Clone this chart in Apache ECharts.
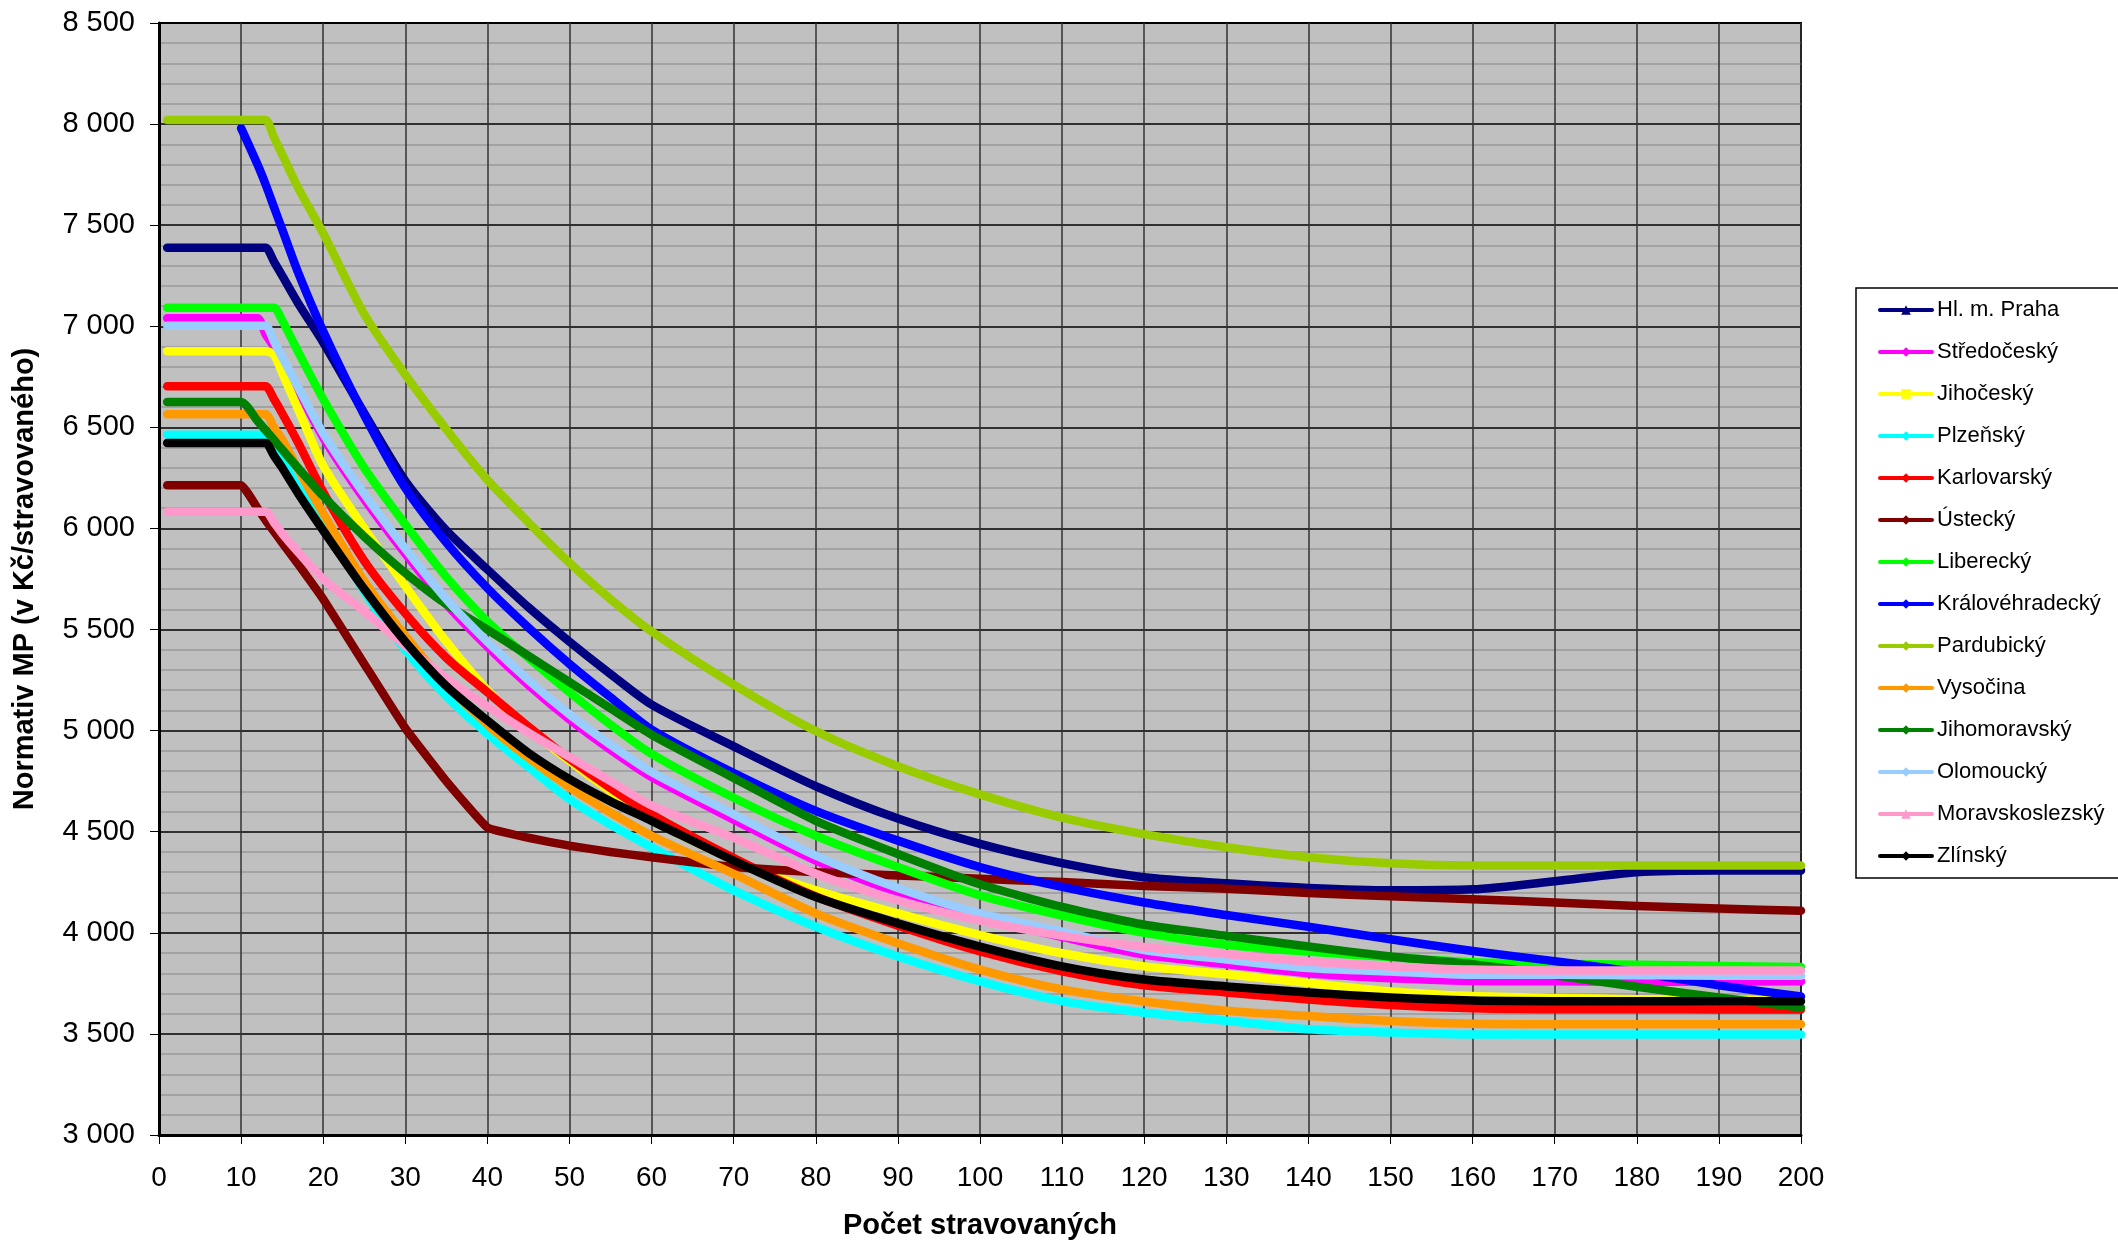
<!DOCTYPE html>
<html>
<head>
<meta charset="utf-8">
<script src="https://cdn.jsdelivr.net/npm/echarts@6/dist/echarts.min.js"></script>
<style>
html,body{margin:0;padding:0;background:#fff;overflow:hidden;}
#chart{width:2118px;height:1245px;}
</style>
</head>
<body>
<div id="chart"></div>
<script>
// x positions (Počet stravovaných)
const xs = [1,10,12,13,14,15,17,20,25,30,35,40,45,50,55,60,70,80,90,100,110,120,130,140,150,160,170,180,190,200];

const seriesNames = ['Hl. m. Praha','Středočeský','Jihočeský','Plzeňský','Karlovarský','Ústecký','Liberecký','Královéhradecký','Pardubický','Vysočina','Jihomoravský','Olomoucký','Moravskoslezský','Zlínský'];

const praha =           [7388,7388,7388,7388,7320,7250,7110,6920,6570,6235,5990,5797,5610,5440,5280,5129,4922,4725,4565,4440,4345,4275,4245,4222,4210,4215,4255,4300,4308,4308];
const stredocesky =     [7040,7040,7040,6960,6900,6830,6680,6450,6145,5875,5625,5415,5225,5055,4905,4770,4560,4357,4200,4075,3980,3892,3845,3800,3775,3762,3760,3758,3758,3760];
const jihocesky =       [6876,6876,6876,6876,6860,6770,6585,6310,6000,5715,5440,5200,5010,4850,4700,4560,4360,4210,4096,3989,3899,3834,3795,3752,3710,3687,3678,3672,3668,3666];
const plzensky =        [6464,6464,6464,6464,6400,6340,6200,6025,5690,5400,5170,4985,4820,4660,4535,4423,4210,4030,3883,3760,3662,3605,3565,3523,3507,3497,3497,3497,3497,3497];
const karlovarsky =     [6703,6703,6703,6703,6640,6570,6420,6180,5840,5580,5360,5190,5020,4860,4715,4585,4370,4180,4035,3908,3810,3740,3705,3670,3643,3627,3622,3622,3621,3621];
const ustecky =         [6214,6214,6100,6040,5985,5930,5820,5650,5330,5012,4750,4521,4470,4431,4400,4374,4325,4300,4284,4267,4251,4232,4218,4197,4181,4166,4150,4133,4120,4109];
const liberecky =       [7092,7092,7092,7092,7092,7030,6870,6640,6300,6020,5760,5540,5360,5190,5030,4885,4668,4480,4325,4185,4085,4000,3941,3907,3880,3854,3847,3842,3836,3831];
const kralovehradecky = [null,7980,7800,7700,7590,7480,7260,6975,6560,6200,5930,5705,5510,5330,5165,5005,4790,4603,4456,4325,4227,4150,4088,4030,3968,3910,3860,3805,3740,3685];
const pardubicky =      [8020,8020,8020,8020,7935,7850,7680,7460,7060,6760,6490,6240,6030,5830,5650,5490,5228,4998,4824,4685,4570,4488,4423,4374,4344,4333,4333,4333,4333,4333];
const vysocina =        [6565,6565,6565,6565,6500,6440,6290,6075,5740,5470,5230,5030,4865,4720,4595,4480,4292,4096,3948,3818,3720,3660,3615,3589,3564,3550,3548,3548,3548,3548];
const jihomoravsky =    [6626,6626,6532,6485,6438,6390,6296,6160,5960,5780,5625,5500,5370,5240,5110,4980,4766,4554,4390,4240,4128,4040,3985,3932,3883,3845,3790,3733,3680,3630];
const olomoucky =       [7002,7002,7002,7002,6925,6848,6695,6470,6170,5900,5650,5440,5250,5080,4930,4795,4586,4382,4222,4096,4006,3915,3868,3826,3809,3793,3793,3790,3788,3788];
const moravskoslezsky = [6083,6083,6083,6083,6030,5975,5880,5750,5590,5420,5260,5120,4990,4870,4750,4630,4470,4292,4161,4060,3985,3930,3895,3858,3834,3818,3814,3814,3814,3814];
const zlinsky =         [6423,6423,6423,6423,6360,6300,6170,5990,5700,5440,5220,5050,4890,4760,4650,4554,4357,4177,4047,3932,3834,3769,3735,3705,3680,3665,3662,3662,3662,3661];

const seriesValues = [praha,stredocesky,jihocesky,plzensky,karlovarsky,ustecky,liberecky,kralovehradecky,pardubicky,vysocina,jihomoravsky,olomoucky,moravskoslezsky,zlinsky];
const seriesColors = ['#000080','#FF00FF','#FFFF00','#00FFFF','#FF0000','#800000','#00FF00','#0000FF','#99CC00','#FF9900','#008000','#99CCFF','#FF99CC','#000000'];
const seriesSymbols = ['triangle','diamond','rect','diamond','diamond','diamond','diamond','diamond','diamond','diamond','diamond','diamond','triangle','diamond'];
const seriesSmooth = [0.25,0.25,0.25,0.25,0.25,0.1,0.25,0.25,0.25,0.25,0.2,0.25,0.25,0.25];

const fmt = v => String(v).replace(/\B(?=(\d{3})+(?!\d))/g, ' ');
const FONT = '"Liberation Sans", Arial, sans-serif';

const series = seriesNames.map((name, i) => ({
  type: 'line',
  name: name,
  data: xs.map((x, j) => [x, seriesValues[i][j]]).filter(p => p[1] !== null),
  symbol: seriesSymbols[i],
  symbolSize: 10,
  showSymbol: false,
  smooth: seriesSmooth[i],
  lineStyle: { width: 8.5, color: seriesColors[i], cap: 'round', join: 'round' },
  itemStyle: { color: seriesColors[i] },
  emphasis: { disabled: true }
}));

const chart = echarts.init(document.getElementById('chart'), null, { renderer: 'canvas' });
chart.setOption({
  animation: false,
  backgroundColor: '#ffffff',
  textStyle: { fontFamily: FONT },
  grid: { left: 159, top: 23, width: 1642, height: 1126, show: true, backgroundColor: '#C0C0C0', borderColor: '#000', borderWidth: 2 },
  legend: {
    orient: 'vertical', left: 1856, top: 288,
    padding: [11, 40, 11, 22],
    itemWidth: 52, itemHeight: 12, itemGap: 20,
    backgroundColor: '#ffffff', borderColor: '#000', borderWidth: 1.5, borderRadius: 0,
    lineStyle: { width: 4 },
    textStyle: { fontSize: 22, color: '#000', lineHeight: 22, fontFamily: FONT },
    data: seriesNames
  },
  xAxis: {
    type: 'value', min: 0, max: 200, interval: 10,
    name: 'Počet stravovaných', nameLocation: 'middle', nameGap: 76,
    nameTextStyle: { fontWeight: 'bold', fontSize: 29, color: '#000', fontFamily: FONT },
    axisLine: { show: true, lineStyle: { color: '#000', width: 3 } },
    axisTick: { show: true, length: 9, lineStyle: { color: '#000', width: 1 } },
    axisLabel: { fontSize: 28, color: '#000', margin: 29, fontFamily: FONT },
    splitLine: { show: true, lineStyle: { color: '#333333', width: 1.5 } }
  },
  yAxis: {
    type: 'value', min: 3000, max: 8500, interval: 500,
    name: 'Normativ MP (v Kč/stravovaného)', nameLocation: 'middle', nameGap: 120, nameRotate: 90,
    nameTextStyle: { fontWeight: 'bold', fontSize: 29, color: '#000', fontFamily: FONT },
    axisLine: { show: true, lineStyle: { color: '#000', width: 3 } },
    axisTick: { show: true, length: 9, lineStyle: { color: '#000', width: 1 } },
    axisLabel: { fontSize: 29, color: '#000', margin: 24, formatter: fmt, fontFamily: FONT },
    splitLine: { show: true, lineStyle: { color: '#000000', width: 1.5 } },
    minorTick: { show: false, splitNumber: 5 },
    minorSplitLine: { show: true, lineStyle: { color: '#999999', width: 1.5 } }
  },
  series: series
});
</script>
</body>
</html>
